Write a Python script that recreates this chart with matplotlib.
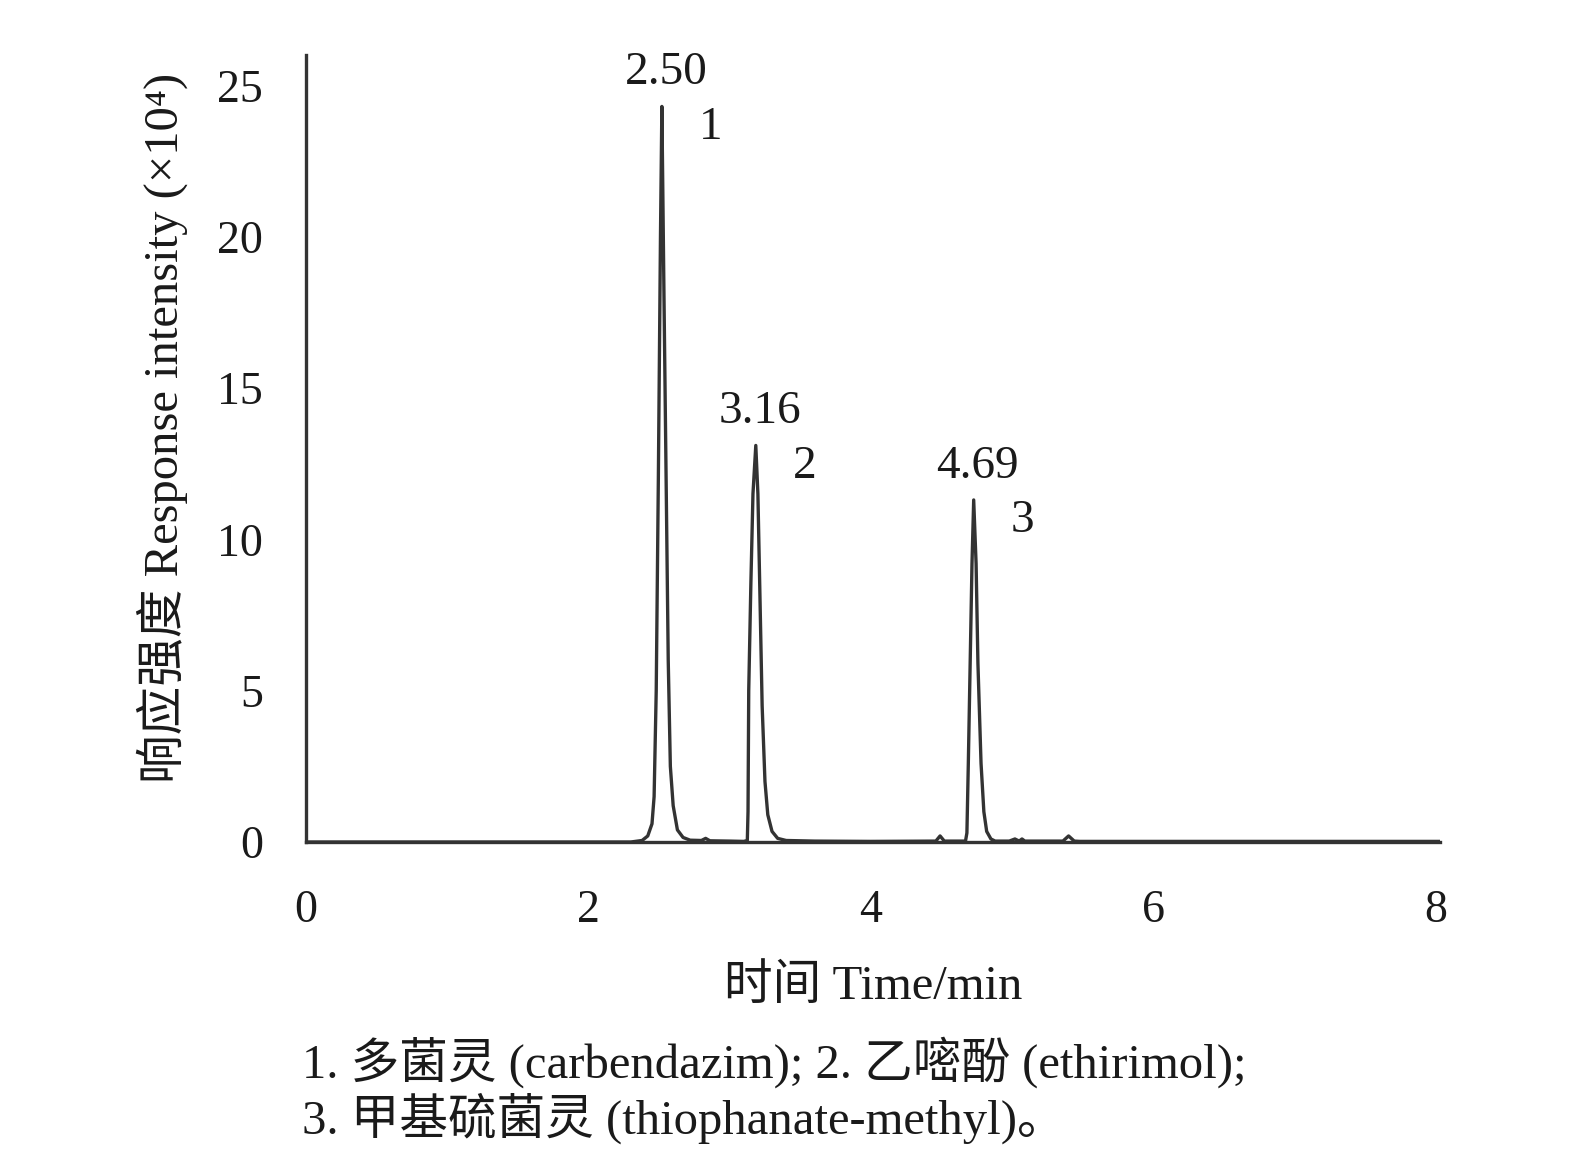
import matplotlib
matplotlib.use("Agg")
import matplotlib.pyplot as plt

# Chromatogram trace (time in min, response x10^4)
TIME = [0.00, 2.30, 2.38, 2.42, 2.45, 2.465, 2.48, 2.495, 2.51, 2.52, 2.535, 2.55,
        2.565, 2.58, 2.60, 2.63, 2.67, 2.72, 2.80, 2.83, 2.86, 3.00, 3.10, 3.125,
        3.13, 3.135, 3.15, 3.165, 3.185, 3.20, 3.215, 3.23, 3.25, 3.27, 3.30, 3.34,
        3.40, 3.60, 4.00, 4.46, 4.49, 4.52, 4.67, 4.68, 4.69, 4.703, 4.716, 4.728,
        4.745, 4.758, 4.78, 4.80, 4.82, 4.85, 4.88, 4.98, 5.02, 5.05, 5.07, 5.09,
        5.12, 5.36, 5.40, 5.44, 5.48, 8.03]
INTENSITY = [0.00, 0.00, 0.05, 0.20, 0.60, 1.5, 5.0, 12.0, 20.0, 24.3, 18.0, 12.0,
             6.0, 2.5, 1.2, 0.40, 0.15, 0.06, 0.05, 0.12, 0.04, 0.03, 0.02, 0.05,
             1.0, 5.0, 8.5, 11.5, 13.1, 11.5, 8.0, 4.5, 2.0, 0.9, 0.35, 0.12,
             0.05, 0.03, 0.02, 0.03, 0.20, 0.03, 0.03, 0.30, 2.6, 5.9, 9.2, 11.3,
             9.2, 5.9, 2.6, 1.0, 0.35, 0.10, 0.03, 0.03, 0.10, 0.03, 0.10, 0.03,
             0.03, 0.03, 0.20, 0.03, 0.02, 0.02]

# Peaks: retention-time labels and peak numbers
PEAK_RT = [2.52, 3.185, 4.728]
PEAK_HEIGHT = [24.3, 13.1, 11.3]
PEAK_RT_LABELS = ["2.50", "3.16", "4.69"]
PEAK_NUMBERS = ["1", "2", "3"]

X_TICKS = [0, 2, 4, 6, 8]
Y_TICKS = [0, 5, 10, 15, 20, 25]

FONT = ["Liberation Serif", "Noto Sans CJK SC", "DejaVu Serif"]
plt.rcParams["font.family"] = FONT
TEXT_COLOR = "#1a1a1a"
LINE_COLOR = "#333333"
FS = 33
FS_LABEL = 35

fig = plt.figure(figsize=(15.75, 11.57), dpi=100)
ax = fig.add_axes([306 / 1575, 1 - 842 / 1157, (1440 - 306) / 1575, (842 - 55) / 1157])

ax.plot(TIME, INTENSITY, color=LINE_COLOR, lw=2.4, solid_joinstyle="round")

ax.set_xlim(0, 8.03)
ax.set_ylim(0, 26.0)
ax.set_xticks(X_TICKS)
ax.set_yticks(Y_TICKS)
ax.tick_params(length=0, labelsize=FS, colors=TEXT_COLOR)
ax.tick_params(axis="x", pad=34)
ax.tick_params(axis="y", pad=31)
for side in ["top", "right"]:
    ax.spines[side].set_visible(False)
for side in ["left", "bottom"]:
    ax.spines[side].set_color(LINE_COLOR)
    ax.spines[side].set_linewidth(2.4)

for rt, h, lab, num in zip(PEAK_RT, PEAK_HEIGHT, PEAK_RT_LABELS, PEAK_NUMBERS):
    ax.annotate(lab, (rt, h), xytext=(3, 24), textcoords="offset points",
                ha="center", va="center", fontsize=34, color=TEXT_COLOR)
    ax.annotate(num, (rt, h), xytext=(35, -15), textcoords="offset points",
                ha="center", va="center", fontsize=34, color=TEXT_COLOR)

fig.text(162 / 1575, 1 - 428 / 1157, "响应强度 Response intensity (×10⁴)",
         rotation=90, ha="center", va="center", fontsize=FS_LABEL, color=TEXT_COLOR)
fig.text(873 / 1575, 1 - 987 / 1157, "时间 Time/min",
         ha="center", va="center", fontsize=FS_LABEL, color=TEXT_COLOR)

fig.text(302 / 1575, 1 - 1062 / 1157, "1. 多菌灵 (carbendazim); 2. 乙嘧酚 (ethirimol);",
         ha="left", va="center", fontsize=FS_LABEL, color=TEXT_COLOR)
fig.text(302 / 1575, 1 - 1118 / 1157, "3. 甲基硫菌灵 (thiophanate-methyl)。",
         ha="left", va="center", fontsize=FS_LABEL, color=TEXT_COLOR)

fig.savefig("out.png", dpi=100)
